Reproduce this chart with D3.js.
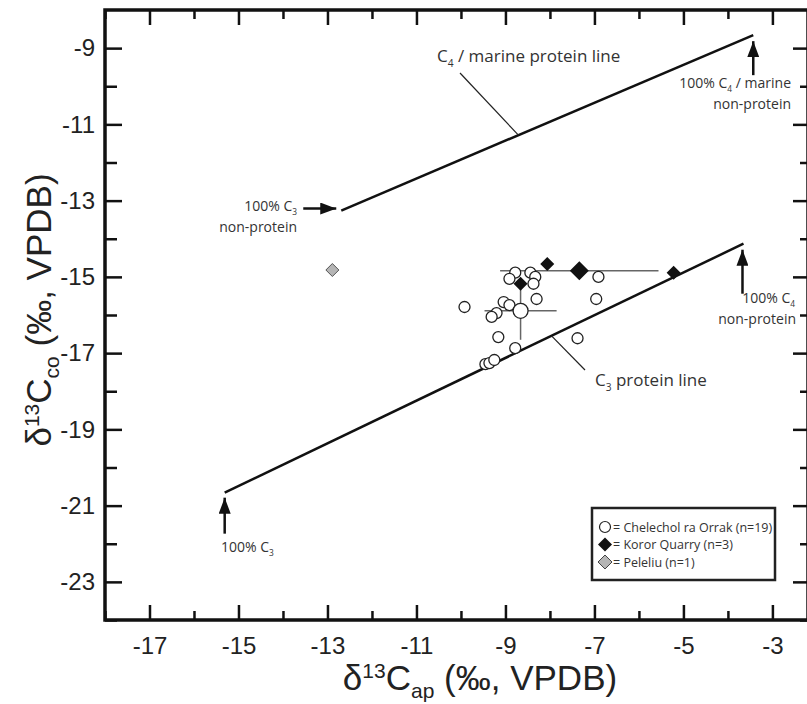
<!DOCTYPE html>
<html>
<head>
<meta charset="utf-8">
<script src="https://cdn.jsdelivr.net/npm/d3@7"></script>
<style>
  body { margin: 0; background: #fff; }
  svg { display: block; }
  .tick text { font-family: "Liberation Sans", Arial, sans-serif; font-size: 24px; fill: #222; }
  .note { font-family: "Open Sans", sans-serif; fill: #333; }
</style>
</head>
<body>
<div id="chart"></div>
<script>
const width = 807;
const height = 704;
const margin = { top: 10, right: -1, bottom: 84, left: 105 };

// Chelechol ra Orrak (open circles)
const chelX = [-9.92, -8.78, -8.44, -8.33, -8.91, -8.37, -6.91, -9.04, -8.91, -8.30,
               -6.96, -9.20, -9.31, -9.16, -7.38, -8.78, -9.45, -9.36, -9.25];
const chelY = [-15.79, -14.89, -14.89, -15.00, -15.05, -15.18, -15.00, -15.66, -15.74, -15.58,
               -15.58, -15.95, -16.05, -16.58, -16.61, -16.87, -17.29, -17.26, -17.18];
// Koror Quarry (black diamonds)
const korX = [-8.06, -8.66, -5.22];
const korY = [-14.66, -15.18, -14.89];
// Peleliu (grey diamond)
const pelX = [-12.89];
const pelY = [-14.82];
// group means with 1 sd: [x, y, sdX, sdY]
const chelMean = [-8.66, -15.89, 0.81, 0.76];
const korMean = [-7.34, -14.84, 1.78, 0.2];

// mixing lines [x0, y0, x1, y1]
const c3Line = [-15.31, -20.66, -3.65, -14.13];
const c4Line = [-12.69, -13.26, -3.43, -8.66];

const xMajor = [-17, -15, -13, -11, -9, -7, -5, -3];
const xMinor = [-18, -16, -14, -12, -10, -8, -6, -4];
const yMajor = [-23, -21, -19, -17, -15, -13, -11, -9];
const yMinor = [-24, -22, -20, -18, -16, -14, -12, -10];

const x = d3.scaleLinear().domain([-18, -2.2]).range([margin.left, width - margin.right]);
const y = d3.scaleLinear().domain([-24, -8]).range([height - margin.bottom, margin.top]);

const svg = d3.select("#chart").append("svg")
    .attr("width", width)
    .attr("height", height);

const defs = svg.append("defs");
defs.append("marker")
    .attr("id", "head")
    .attr("viewBox", "0 0 16 12")
    .attr("refX", 16).attr("refY", 6)
    .attr("markerWidth", 16).attr("markerHeight", 12)
    .attr("markerUnits", "userSpaceOnUse")
    .attr("orient", "auto")
    .append("path")
    .attr("d", "M0,0 L16,6 L0,12 Z")
    .attr("fill", "#111");

const x0 = x.range()[0], x1 = x.range()[1];
const y0 = y.range()[0], y1 = y.range()[1];

// axes, ticks pointing inward
function strip(g) {
    g.select(".domain").remove();
    g.selectAll(".tick line").attr("stroke", "#111").attr("stroke-width", 2.5);
}

svg.append("g").attr("transform", `translate(0,${y0})`)
    .call(d3.axisBottom(x).tickValues(xMajor).tickSize(-15).tickPadding(17).tickFormat(d => String(d)))
    .call(strip);
svg.append("g").attr("transform", `translate(0,${y0})`)
    .call(d3.axisBottom(x).tickValues(xMinor).tickSize(-9).tickFormat(""))
    .call(strip);
svg.append("g").attr("transform", `translate(0,${y1})`)
    .call(d3.axisTop(x).tickValues(xMajor).tickSize(-15).tickFormat(""))
    .call(strip);
svg.append("g").attr("transform", `translate(0,${y1})`)
    .call(d3.axisTop(x).tickValues(xMinor).tickSize(-9).tickFormat(""))
    .call(strip);

svg.append("g").attr("transform", `translate(${x0},0)`)
    .call(d3.axisLeft(y).tickValues(yMajor).tickSize(-17).tickPadding(10).tickFormat(d => String(d)))
    .call(strip);
svg.append("g").attr("transform", `translate(${x0},0)`)
    .call(d3.axisLeft(y).tickValues(yMinor).tickSize(-12).tickFormat(""))
    .call(strip);
svg.append("g").attr("transform", `translate(${x1},0)`)
    .call(d3.axisRight(y).tickValues(yMajor).tickSize(-15).tickFormat(""))
    .call(strip);
svg.append("g").attr("transform", `translate(${x1},0)`)
    .call(d3.axisRight(y).tickValues(yMinor).tickSize(-8).tickFormat(""))
    .call(strip);

// frame
svg.append("rect")
    .attr("x", x0).attr("y", y1)
    .attr("width", x1 - x0).attr("height", y0 - y1)
    .attr("fill", "none")
    .attr("stroke", "#111")
    .attr("stroke-width", 3.5);

// axis titles
function title(sel, sub) {
    sel.append("tspan").text("δ");
    sel.append("tspan").attr("dy", -12).style("font-size", "21px").text("13");
    sel.append("tspan").attr("dy", 12).text("C");
    sel.append("tspan").attr("dy", 8).style("font-size", "21px").text(sub);
    sel.append("tspan").attr("dy", -8).text(" (‰, VPDB)");
}
const xTitle = svg.append("text")
    .attr("x", 480).attr("y", 690)
    .attr("text-anchor", "middle")
    .style("font-family", "Liberation Sans, Arial, sans-serif")
    .style("font-size", "35px")
    .attr("fill", "#222");
title(xTitle, "ap");

const yTitle = svg.append("text")
    .attr("transform", "translate(51,310) rotate(-90)")
    .attr("text-anchor", "middle")
    .style("font-family", "Liberation Sans, Arial, sans-serif")
    .style("font-size", "35px")
    .attr("fill", "#222");
title(yTitle, "co");

// mixing lines
[c3Line, c4Line].forEach(l => {
    svg.append("line")
        .attr("x1", x(l[0])).attr("y1", y(l[1]))
        .attr("x2", x(l[2])).attr("y2", y(l[3]))
        .attr("stroke", "#111")
        .attr("stroke-width", 2.5);
});

// arrows pointing at the line ends
function arrow(xa, ya, xb, yb) {
    svg.append("line")
        .attr("x1", xa).attr("y1", ya)
        .attr("x2", xb).attr("y2", yb)
        .attr("stroke", "#111")
        .attr("stroke-width", 2.5)
        .attr("marker-end", "url(#head)");
}
arrow(x(c4Line[0]) - 38, y(c4Line[1]) - 2, x(c4Line[0]) - 5, y(c4Line[1]) - 2);
arrow(x(c4Line[2]), y(c4Line[3]) + 40, x(c4Line[2]), y(c4Line[3]) + 6);
arrow(x(c3Line[2]) - 1, y(c3Line[3]) + 50, x(c3Line[2]) - 1, y(c3Line[3]) + 6);
arrow(x(c3Line[0]), y(c3Line[1]) + 41, x(c3Line[0]), y(c3Line[1]) + 5);

// notes; parts are plain strings or ["sub", text]
function note(px, py, anchor, size, parts) {
    const t = svg.append("text")
        .attr("class", "note")
        .attr("x", px).attr("y", py)
        .attr("text-anchor", anchor)
        .style("font-size", size + "px");
    let shift = 0;
    parts.forEach(p => {
        if (Array.isArray(p)) {
            t.append("tspan").attr("dy", size * 0.3).style("font-size", (size * 0.6) + "px").text(p[1]);
            shift = -size * 0.3;
        } else {
            t.append("tspan").attr("dy", shift).text(p);
            shift = 0;
        }
    });
}

note(437, 62, "start", 17, ["C", ["sub", "4"], " / marine protein line"]);
note(791, 88, "end", 14, ["100% C", ["sub", "4"], " / marine"]);
note(791, 109, "end", 14, ["non-protein"]);
note(297, 211, "end", 14, ["100% C", ["sub", "3"]]);
note(297, 232, "end", 14, ["non-protein"]);
note(795, 303, "end", 14, ["100% C", ["sub", "4"]]);
note(796, 324, "end", 14, ["non-protein"]);
note(221, 552, "start", 14, ["100% C", ["sub", "3"]]);
note(595, 386, "start", 17, ["C", ["sub", "3"], " protein line"]);

// leader lines from labels to the mixing lines
function leader(xa, ya, t, l) {
    const xb = x(l[0] + (l[2] - l[0]) * t);
    const yb = y(l[1] + (l[3] - l[1]) * t);
    svg.append("line")
        .attr("x1", xa).attr("y1", ya)
        .attr("x2", xb).attr("y2", yb)
        .attr("stroke", "#222")
        .attr("stroke-width", 1.2);
}
leader(460, 73, 0.43, c4Line);
leader(585, 370, 0.63, c3Line);

// error bars
function errBars(m) {
    svg.append("line")
        .attr("x1", x(m[0] - m[2])).attr("x2", x(m[0] + m[2]))
        .attr("y1", y(m[1])).attr("y2", y(m[1]))
        .attr("stroke", "#666").attr("stroke-width", 1.5);
    svg.append("line")
        .attr("x1", x(m[0])).attr("x2", x(m[0]))
        .attr("y1", y(m[1] - m[3])).attr("y2", y(m[1] + m[3]))
        .attr("stroke", "#666").attr("stroke-width", 1.5);
}
errBars(chelMean);
errBars(korMean);

function diamond(r) {
    return `M0,${-r} L${r},0 L0,${r} L${-r},0 Z`;
}

// points
svg.append("g").selectAll("circle")
    .data(chelX.map((d, i) => [d, chelY[i]]))
    .join("circle")
    .attr("cx", d => x(d[0]))
    .attr("cy", d => y(d[1]))
    .attr("r", 5.5)
    .attr("fill", "#fff")
    .attr("stroke", "#222")
    .attr("stroke-width", 1.3);

svg.append("circle")
    .attr("cx", x(chelMean[0])).attr("cy", y(chelMean[1]))
    .attr("r", 7.5)
    .attr("fill", "#fff")
    .attr("stroke", "#222")
    .attr("stroke-width", 1.3);

svg.append("g").selectAll("path")
    .data(korX.map((d, i) => [d, korY[i]]))
    .join("path")
    .attr("transform", d => `translate(${x(d[0])},${y(d[1])})`)
    .attr("d", diamond(7))
    .attr("fill", "#111");

svg.append("path")
    .attr("transform", `translate(${x(korMean[0])},${y(korMean[1])})`)
    .attr("d", diamond(9.5))
    .attr("fill", "#111");

svg.append("g").selectAll("path")
    .data(pelX.map((d, i) => [d, pelY[i]]))
    .join("path")
    .attr("transform", d => `translate(${x(d[0])},${y(d[1])})`)
    .attr("d", diamond(6.5))
    .attr("fill", "#b5b5b5")
    .attr("stroke", "#555")
    .attr("stroke-width", 1);

// legend
const legend = svg.append("g");
legend.append("rect")
    .attr("x", 592).attr("y", 508)
    .attr("width", 183).attr("height", 72)
    .attr("fill", "#fff")
    .attr("stroke", "#222")
    .attr("stroke-width", 2.5);

const legendItems = [
    { label: "= Chelechol ra Orrak (n=19)", shape: "circle" },
    { label: "= Koror Quarry (n=3)", shape: "black" },
    { label: "= Peleliu (n=1)", shape: "grey" }
];
legendItems.forEach((d, i) => {
    const ly = 527 + i * 17.5;
    if (d.shape === "circle") {
        legend.append("circle").attr("cx", 605).attr("cy", ly).attr("r", 5.5)
            .attr("fill", "#fff").attr("stroke", "#222").attr("stroke-width", 1.2);
    } else {
        legend.append("path").attr("transform", `translate(605,${ly})`)
            .attr("d", diamond(7))
            .attr("fill", d.shape === "black" ? "#111" : "#b5b5b5")
            .attr("stroke", d.shape === "black" ? "none" : "#444");
    }
    legend.append("text")
        .attr("class", "note")
        .attr("x", 613).attr("y", ly + 4.5)
        .style("font-size", "12.5px")
        .text(d.label);
});
</script>
</body>
</html>
